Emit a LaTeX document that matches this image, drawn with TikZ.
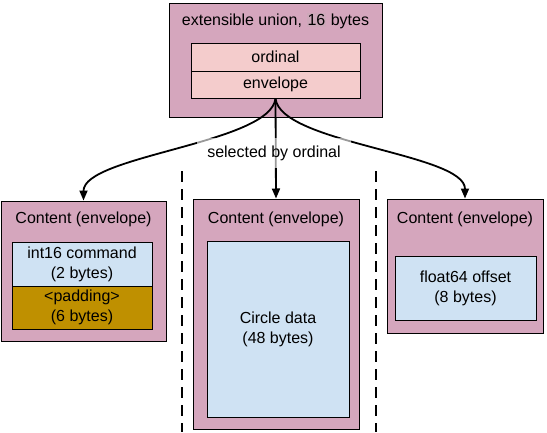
\documentclass[tikz,border=0pt]{standalone}
\usepackage{fontspec}
\setmainfont{Liberation Sans}
\usetikzlibrary{arrows.meta}

\definecolor{unionpink}{HTML}{D5A6BD}
\definecolor{fieldpink}{HTML}{F4CCCC}
\definecolor{datablue}{HTML}{CFE2F3}
\definecolor{padgold}{HTML}{BF9000}
\definecolor{numgray}{HTML}{CDA8B9}
\setlength{\fboxsep}{1pt}

\begin{document}
\begin{tikzpicture}[x=1pt, y=-1pt, font=\fontsize{16}{20}\selectfont]
    \tikzstyle{every node} = [rectangle, inner sep=0pt, align=center]
    \tikzstyle{outer} = [draw, fill=unionpink, line width=1pt]
    \tikzstyle{field} = [draw, line width=1pt]
    \tikzstyle{pick} = [-{Triangle[length=10pt,width=8pt]}, line width=1.8pt]
    \tikzstyle{split} = [line width=2.6pt, dash pattern=on 11pt off 7pt]

    \useasboundingbox (0,0) rectangle (547,432);

    \node (u) at (275.5, 60) [outer, minimum width=213pt, minimum height=114pt] {};
    \node (ut) at (275.5, 21) {extensible union, \colorbox{numgray}{16} bytes};
    \node (o) at (275.5, 57) [field, fill=fieldpink, minimum width=169pt, minimum height=28pt] {ordinal};
    \node (e) at (275.5, 84.5) [field, fill=fieldpink, minimum width=169pt, minimum height=27pt] {envelope};

    \node (l) at (83.5, 271) [outer, minimum width=165pt, minimum height=140pt] {};
    \node (lt) at (83.5, 219) {Content (envelope)};
    \node (c) at (82, 264) [field, fill=datablue, minimum width=140pt, minimum height=44pt] {int16 command \\ (2 bytes)};
    \node (p) at (82, 307.5) [field, fill=padgold, minimum width=140pt, minimum height=43pt] {<padding> \\ (6 bytes)};

    \node (m) at (276, 314) [outer, minimum width=166pt, minimum height=230pt] {};
    \node (mt) at (276, 219) {Content (envelope)};
    \node (d) at (278, 329) [field, fill=datablue, minimum width=142pt, minimum height=176pt] {Circle data \\ (48 bytes)};

    \node (r) at (465, 266) [outer, minimum width=156pt, minimum height=134pt] {};
    \node (rt) at (465, 219) {Content (envelope)};
    \node (f) at (465.5, 288) [field, fill=datablue, minimum width=141pt, minimum height=64pt] {float64 offset \\ (8 bytes)};

    \coordinate (s1) at (182, 171);
    \coordinate (s2) at (182, 432);
    \coordinate (s3) at (376, 171);
    \coordinate (s4) at (376, 432);
    \draw [split] (s1) -- (s2);
    \draw [split] (s3) -- (s4);

    \draw [pick] (e.south) .. controls +(-5, 45) and +(0, -45) .. (l.north);
    \draw [pick] (e.south) -- (m.north);
    \draw [pick] (e.south) .. controls +(5, 45) and +(0, -45) .. (r.north);

    \node (sel) at (274, 153) [fill=white, fill opacity=0.6, text opacity=1, inner xsep=10pt, inner ysep=8pt] {selected by ordinal};
\end{tikzpicture}
\end{document}
